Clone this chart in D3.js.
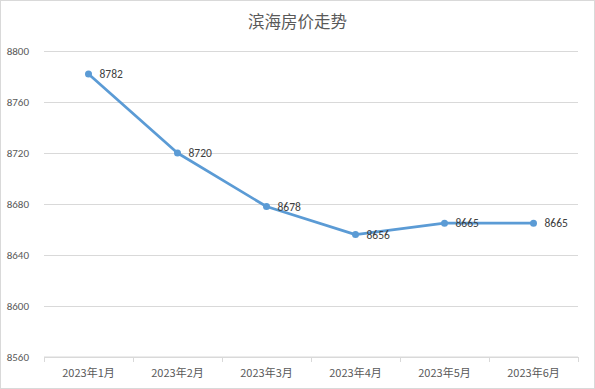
<!DOCTYPE html>
<html>
<head>
<meta charset="utf-8">
<script src="https://cdn.jsdelivr.net/npm/d3@7"></script>
<style>
	body { margin: 0; background: #fff; }
	svg { display: block; font-family: "Microsoft YaHei", "Noto Sans CJK SC", sans-serif; }
</style>
</head>
<body>
<svg id="chart" width="595" height="389"></svg>
<script>
const TITLE = '滨海房价走势';
const MONTHS = ['2023年1月', '2023年2月', '2023年3月', '2023年4月', '2023年5月', '2023年6月'];
const PRICES = [8782, 8720, 8678, 8656, 8665, 8665];
const Y_TICKS = [8560, 8600, 8640, 8680, 8720, 8760, 8800];

const data = MONTHS.map((m, i) => ({ month: m, price: PRICES[i] }));

const MARGIN = { top: 51, right: 17, bottom: 32, left: 44 };

function draw() {
	const svg = d3.select('#chart');
	const width = +svg.attr('width');
	const height = +svg.attr('height');

	svg.append('rect')
		.attr('x', 0.5).attr('y', 0.5)
		.attr('width', width - 1).attr('height', height - 1)
		.attr('fill', '#fff').attr('stroke', '#d9d9d9');

	const x = d3.scaleBand()
		.domain(MONTHS)
		.range([MARGIN.left, width - MARGIN.right]);
	const y = d3.scaleLinear()
		.domain([8560, 8800])
		.range([height - MARGIN.bottom, MARGIN.top]);

	// gridlines + y labels
	const yAxis = svg.append('g')
		.attr('transform', `translate(${MARGIN.left},0)`)
		.call(d3.axisLeft(y).tickValues(Y_TICKS).tickSize(-(width - MARGIN.left - MARGIN.right)).tickPadding(15).tickFormat(d3.format('d')));
	yAxis.select('.domain').remove();
	yAxis.selectAll('line').attr('stroke', '#d9d9d9');
	yAxis.selectAll('text').attr('fill', '#595959').style('font-size', '11px')
		.style('font-family', 'Calibri, "Liberation Sans", "Noto Sans", sans-serif');

	// x axis with ticks at band edges
	const xg = svg.append('g')
		.attr('transform', `translate(0,${height - MARGIN.bottom})`);
	xg.append('line')
		.attr('x1', MARGIN.left).attr('x2', width - MARGIN.right)
		.attr('stroke', '#d9d9d9');
	const edges = MONTHS.map(m => x(m)).concat([x.range()[1]]);
	xg.selectAll('line.tick')
		.data(edges)
		.enter().append('line')
		.attr('class', 'tick')
		.attr('x1', d => d + 0.5).attr('x2', d => d + 0.5)
		.attr('y1', 0).attr('y2', 5)
		.attr('stroke', '#d9d9d9');
	xg.selectAll('text')
		.data(MONTHS)
		.enter().append('text')
		.attr('x', d => x(d) + x.bandwidth() / 2)
		.attr('y', 20)
		.attr('text-anchor', 'middle')
		.attr('fill', '#595959')
		.style('font-size', '11px')
		.text(d => d);

	// line
	const line = d3.line()
		.x(d => x(d.month) + x.bandwidth() / 2)
		.y(d => y(d.price));
	svg.append('path')
		.datum(data)
		.attr('d', line)
		.attr('fill', 'none')
		.attr('stroke', '#5b9bd5')
		.attr('stroke-width', 2.75)
		.attr('stroke-linejoin', 'round');

	svg.append('g')
		.selectAll('circle')
		.data(data)
		.enter().append('circle')
		.attr('cx', d => x(d.month) + x.bandwidth() / 2)
		.attr('cy', d => y(d.price))
		.attr('r', 3.5)
		.attr('fill', '#5b9bd5');

	svg.append('g')
		.selectAll('text')
		.data(data)
		.enter().append('text')
		.attr('x', d => x(d.month) + x.bandwidth() / 2 + 11)
		.attr('y', d => y(d.price))
		.attr('dy', '0.35em')
		.attr('fill', '#404040')
		.style('font-size', '11.5px')
		.style('font-family', 'Calibri, "Liberation Sans", "Noto Sans", sans-serif')
		.text(d => d.price);

	svg.append('text')
		.attr('x', width / 2)
		.attr('y', 28)
		.attr('text-anchor', 'middle')
		.attr('fill', '#595959')
		.style('font-size', '16.5px')
		.text(TITLE);
}

draw();
</script>
</body>
</html>
